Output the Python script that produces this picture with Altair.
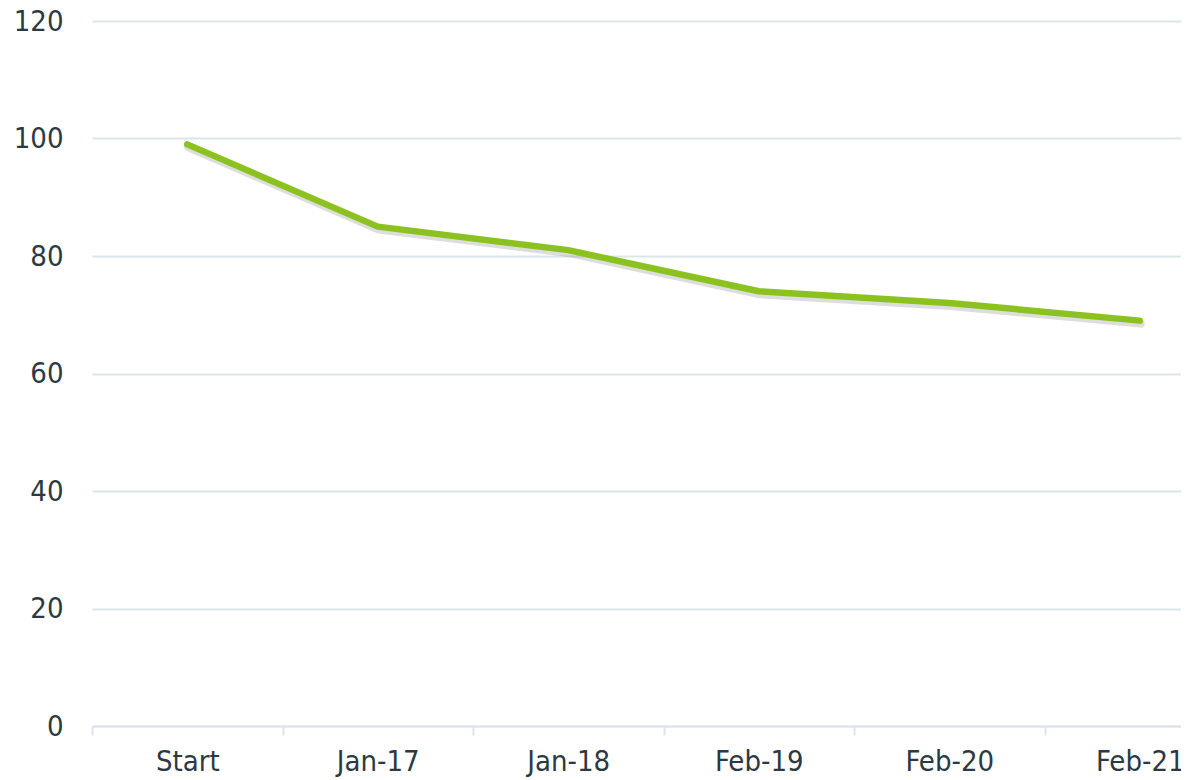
import altair as alt
import pandas as pd

categories = ["Start", "Jan-17", "Jan-18", "Feb-19", "Feb-20", "Feb-21"]
values = [99, 85, 81, 74, 72, 69]
y_ticks = [0, 20, 40, 60, 80, 100, 120]

df = pd.DataFrame({"period": categories, "value": values})

FONT = "DejaVu Sans Condensed"
TEXT = "#2b3a42"
GRID = "#dce5ea"

x_enc = alt.X(
    "period:N",
    sort=categories,
    title=None,
    scale=alt.Scale(type="band", paddingInner=0, paddingOuter=0, range=[0, 1143]),
    axis=alt.Axis(
        labelAngle=0,
        labelFont=FONT,
        labelFontSize=29,
        labelColor=TEXT,
        labelPadding=12,
        domainColor=GRID,
        domainWidth=2,
        tickColor=GRID,
        tickWidth=2,
        tickSize=9,
        tickBand="extent",
        grid=False,
    ),
)
y_enc = alt.Y(
    "value:Q",
    title=None,
    scale=alt.Scale(domain=[0, 120], nice=False, zero=True),
    axis=alt.Axis(
        values=y_ticks,
        labelFont=FONT,
        labelFontSize=29,
        labelColor=TEXT,
        labelPadding=29,
        domain=False,
        ticks=False,
        grid=True,
        gridColor=GRID,
        gridWidth=2,
    ),
)

shadow = alt.Chart(df).mark_line(
    color="#555555", opacity=0.2, strokeWidth=8, strokeCap="round",
    strokeJoin="round", yOffset=3, xOffset=1
).encode(x=x_enc, y=y_enc)

line = alt.Chart(df).mark_line(
    color="#8cc21f", strokeWidth=6.5, strokeCap="round", strokeJoin="round"
).encode(x=x_enc, y=y_enc)

chart = (
    alt.layer(shadow, line)
    .properties(
        width=1089,
        height=705,
        background="white",
        autosize=alt.AutoSizeParams(type="none"),
        padding={"left": 84, "top": 13, "right": 0, "bottom": 52},
    )
    .configure_view(stroke=None)
)

chart.save("out.html", embed_options={"renderer": "svg", "actions": False})
